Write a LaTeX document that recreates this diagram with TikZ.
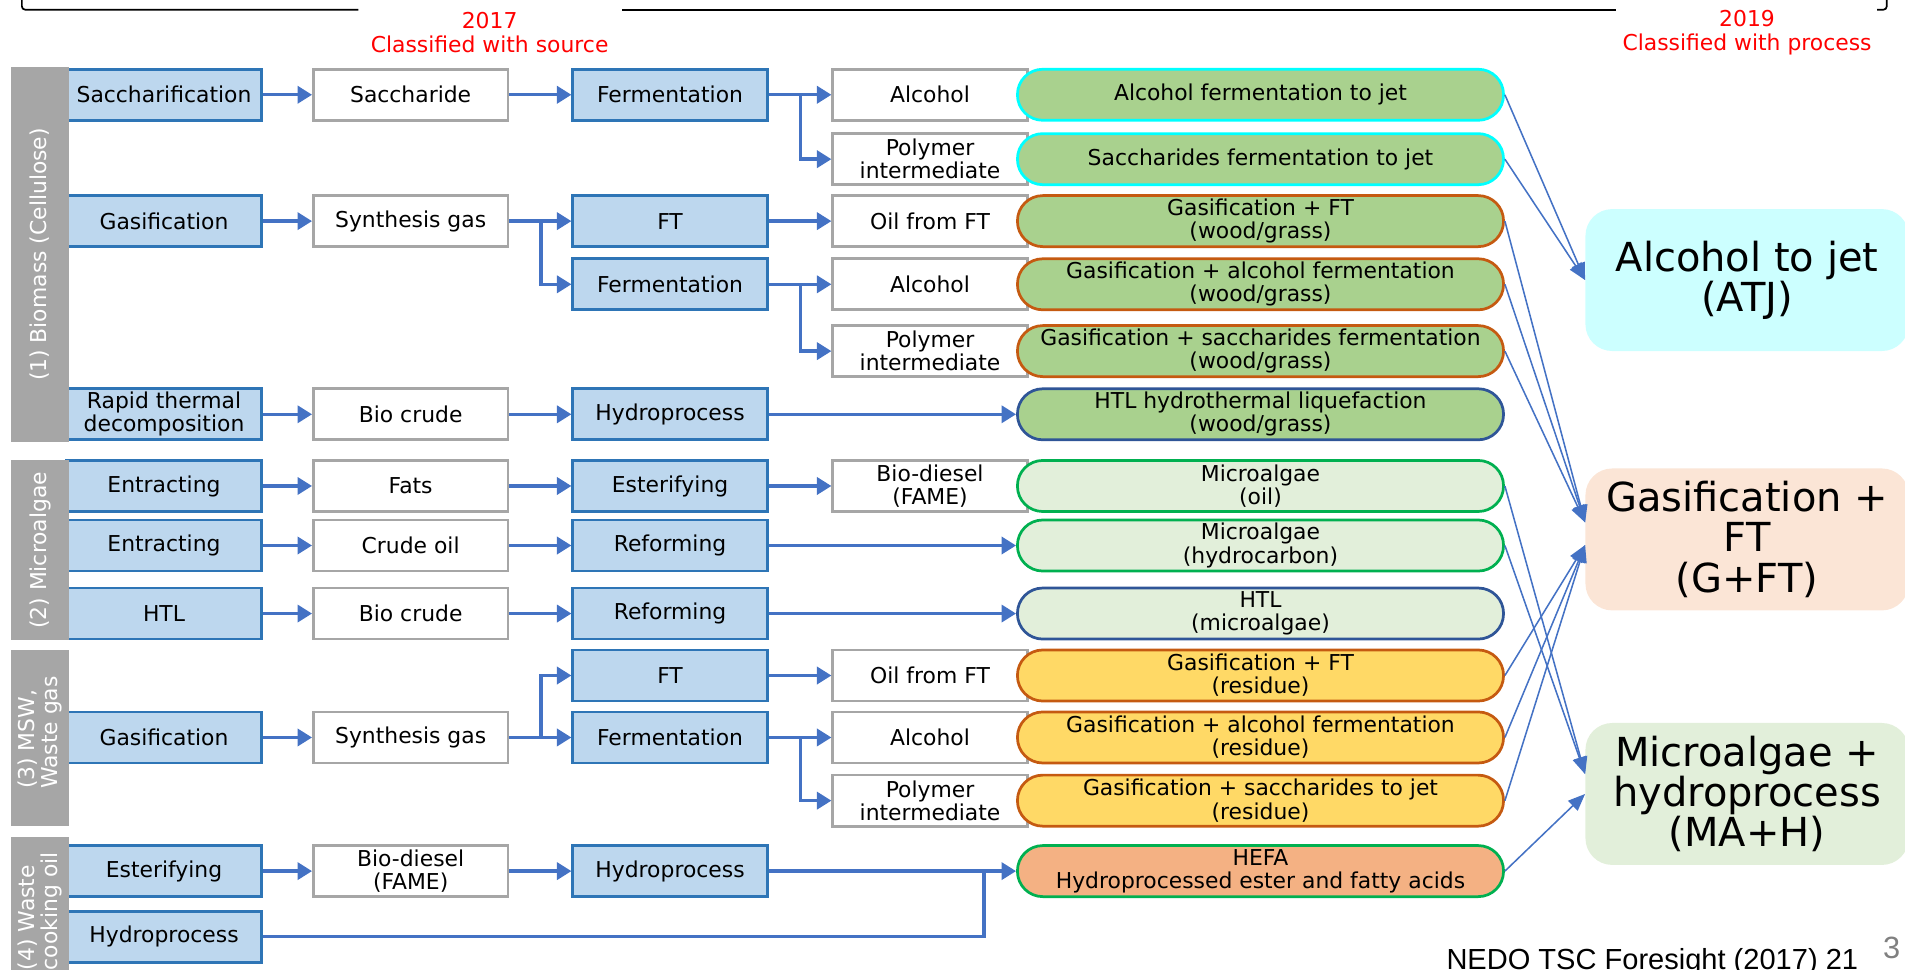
\documentclass[tikz,border=0pt]{standalone}
\usepackage{fontspec}
\setmainfont{DejaVu Sans}
\newfontfamily\citefont{Liberation Sans}
\usetikzlibrary{arrows.meta}

\definecolor{procfill}{HTML}{BDD7EE}
\definecolor{procline}{HTML}{2E75B6}
\definecolor{prodline}{HTML}{A6A6A6}
\definecolor{flow}{HTML}{4472C4}
\definecolor{leaf}{HTML}{A9D18E}
\definecolor{paleleaf}{HTML}{E2EFDA}
\definecolor{corn}{HTML}{FFD966}
\definecolor{salmon}{HTML}{F4B183}
\definecolor{cyanline}{HTML}{00FFFF}
\definecolor{rustline}{HTML}{C55A11}
\definecolor{navyline}{HTML}{2F5597}
\definecolor{greenline}{HTML}{00B050}
\definecolor{atjfill}{HTML}{CCFFFF}
\definecolor{gftfill}{HTML}{FBE5D6}
\definecolor{mahfill}{HTML}{E2EFDA}

\newcommand\boxfont{\fontsize{12.8}{13.6}\selectfont}
\newcommand\catfont{\fontsize{23.4}{23.6}\selectfont}

\tikzset{
  cell/.style={minimum height=1.05cm, minimum width=4cm, inner sep=0pt, align=center, font=\boxfont, line width=1.6pt},
  proc/.style={cell, draw=procline, fill=procfill},
  prod/.style={cell, draw=prodline, fill=white},
  route/.style={cell, minimum width=10cm, rounded corners=0.52cm},
  cat/.style={minimum width=6.65cm, minimum height=2.92cm, inner sep=0pt, align=center, font=\catfont, rounded corners=0.55cm},
  conn/.style={draw=flow, line width=2pt, -{Triangle[length=8.5pt, width=10pt]}},
  pipe/.style={draw=flow, line width=2pt},
  link/.style={draw=flow, line width=0.9pt, -{Triangle[length=10pt, width=8pt]}},
  sidebar/.style={fill=prodline},
  sidelabel/.style={rotate=90, text=white, align=left, inner sep=0pt, font=\fontsize{12.8}{13.4}\selectfont},
  header/.style={text=red, align=center, inner sep=0pt, font=\fontsize{12.8}{14.2}\selectfont},
  bracket/.style={line width=1pt, rounded corners=2pt}
}

\begin{document}
\begin{tikzpicture}[x=0.025cm, y=-0.025cm]
\useasboundingbox (0,0) rectangle (1568,798);

% headings
\draw[bracket] (18,0) -- (18,8) -- (295,8);
\draw[bracket] (512,8) -- (1330,8);
\draw[bracket] (1545,8) -- (1553,8) -- (1553,0);
\node[header] (year1) at (403,27) {2017\\Classified with source};
\node[header] (year2) at (1438,27) {2019\\Classified with process};

% first step
\node[proc] (sac) at (135,78) {Saccharification};
\node[proc] (gas1) at (135,182) {Gasification};
\node[proc] (rtd) at (135,341) {Rapid thermal\\decomposition};
\node[proc] (ext1) at (135,400) {Entracting};
\node[proc] (ext2) at (135,449) {Entracting};
\node[proc] (htl) at (135,505) {HTL};
\node[proc] (gas2) at (135,607) {Gasification};
\node[proc] (est1) at (135,717) {Esterifying};
\node[proc] (hyd0) at (135,771) {Hydroprocess};

% first product
\node[prod] (sacd) at (338,78) {Saccharide};
\node[prod] (syn1) at (338,182) {Synthesis gas};
\node[prod] (bio1) at (338,341) {Bio crude};
\node[prod] (fats) at (338,400) {Fats};
\node[prod] (crude) at (338,449) {Crude oil};
\node[prod] (bio2) at (338,505) {Bio crude};
\node[prod] (syn2) at (338,607) {Synthesis gas};
\node[prod] (fame1) at (338,717) {Bio-diesel\\(FAME)};

% second step
\node[proc] (fer1) at (551.5,78) {Fermentation};
\node[proc] (ft1) at (551.5,182) {FT};
\node[proc] (fer2) at (551.5,234) {Fermentation};
\node[proc] (hyd1) at (551.5,341) {Hydroprocess};
\node[proc] (est2) at (551.5,400) {Esterifying};
\node[proc] (ref1) at (551.5,449) {Reforming};
\node[proc] (ref2) at (551.5,505) {Reforming};
\node[proc] (ft2) at (551.5,556) {FT};
\node[proc] (fer3) at (551.5,607) {Fermentation};
\node[proc] (hyd2) at (551.5,717) {Hydroprocess};

% second product
\node[prod] (alc1) at (765.5,78) {Alcohol};
\node[prod] (poly1) at (765.5,131) {Polymer\\intermediate};
\node[prod] (oil1) at (765.5,182) {Oil from FT};
\node[prod] (alc2) at (765.5,234) {Alcohol};
\node[prod] (poly2) at (765.5,289) {Polymer\\intermediate};
\node[prod] (fame2) at (765.5,400) {Bio-diesel\\(FAME)};
\node[prod] (oil2) at (765.5,556) {Oil from FT};
\node[prod] (alc3) at (765.5,607) {Alcohol};
\node[prod] (poly3) at (765.5,659) {Polymer\\intermediate};

% routes
\node[route, fill=leaf, draw=cyanline] (jet1) at (1037.5,78) {Alcohol fermentation to jet};
\node[route, fill=leaf, draw=cyanline] (jet2) at (1037.5,131) {Saccharides fermentation to jet};
\node[route, fill=leaf, draw=rustline] (gw1) at (1037.5,182) {Gasification + FT\\(wood/grass)};
\node[route, fill=leaf, draw=rustline] (gw2) at (1037.5,234) {Gasification + alcohol fermentation\\(wood/grass)};
\node[route, fill=leaf, draw=rustline] (gw3) at (1037.5,289) {Gasification + saccharides fermentation\\(wood/grass)};
\node[route, fill=leaf, draw=navyline] (htlw) at (1037.5,341) {HTL hydrothermal liquefaction\\(wood/grass)};
\node[route, fill=paleleaf, draw=greenline] (alg1) at (1037.5,400) {Microalgae\\(oil)};
\node[route, fill=paleleaf, draw=greenline] (alg2) at (1037.5,449) {Microalgae\\(hydrocarbon)};
\node[route, fill=paleleaf, draw=navyline] (htlm) at (1037.5,505) {HTL\\(microalgae)};
\node[route, fill=corn, draw=rustline] (gr1) at (1037.5,556) {Gasification + FT\\(residue)};
\node[route, fill=corn, draw=rustline] (gr2) at (1037.5,607) {Gasification + alcohol fermentation\\(residue)};
\node[route, fill=corn, draw=rustline] (gr3) at (1037.5,659) {Gasification + saccharides to jet\\(residue)};
\node[route, fill=salmon, draw=greenline] (hefa) at (1037.5,717) {HEFA\\Hydroprocessed ester and fatty acids};

% 2019 classes
\node[cat, fill=atjfill] (atj) at (1438,230.5) {Alcohol to jet\\(ATJ)};
\node[cat, fill=gftfill] (gft) at (1438,444) {Gasification +\\FT\\(G+FT)};
\node[cat, fill=mahfill] (mah) at (1438,653.5) {Microalgae +\\hydroprocess\\(MA+H)};

% sources
\fill[sidebar] (9,55) rectangle (57,364);
\node[sidelabel] (src1) at (33,209.5) {(1) Biomass (Cellulose)};
\fill[sidebar] (9,379) rectangle (57,527);
\node[sidelabel] (src2) at (33,453) {(2) Microalgae};
\fill[sidebar] (9,535) rectangle (57,680);
\node[sidelabel] (src3) at (33,603) {(3) MSW,\\Waste gas};
\fill[sidebar] (9,689) rectangle (57,812);
\node[sidelabel] (src4) at (33,750) {(4) Waste\\cooking oil};

% flows
\draw[conn] (sac.east) -- (sacd.west);
\draw[conn] (sacd.east) -- (fer1.west);
\draw[conn] (fer1.east) -- (alc1.west);
\draw[conn] (fer1.east) -- ++(26,0) |- (poly1.west);
\draw[conn] (gas1.east) -- (syn1.west);
\draw[conn] (syn1.east) -- (ft1.west);
\draw[conn] (syn1.east) -- ++(26,0) |- (fer2.west);
\draw[conn] (ft1.east) -- (oil1.west);
\draw[conn] (fer2.east) -- (alc2.west);
\draw[conn] (fer2.east) -- ++(26,0) |- (poly2.west);
\draw[conn] (rtd.east) -- (bio1.west);
\draw[conn] (bio1.east) -- (hyd1.west);
\draw[conn] (hyd1.east) -- (htlw.west);
\draw[conn] (ext1.east) -- (fats.west);
\draw[conn] (fats.east) -- (est2.west);
\draw[conn] (est2.east) -- (fame2.west);
\draw[conn] (ext2.east) -- (crude.west);
\draw[conn] (crude.east) -- (ref1.west);
\draw[conn] (ref1.east) -- (alg2.west);
\draw[conn] (htl.east) -- (bio2.west);
\draw[conn] (bio2.east) -- (ref2.west);
\draw[conn] (ref2.east) -- (htlm.west);
\draw[conn] (gas2.east) -- (syn2.west);
\draw[conn] (syn2.east) -- (fer3.west);
\draw[conn] (syn2.east) -- ++(26,0) |- (ft2.west);
\draw[conn] (ft2.east) -- (oil2.west);
\draw[conn] (fer3.east) -- (alc3.west);
\draw[conn] (fer3.east) -- ++(26,0) |- (poly3.west);
\draw[conn] (est1.east) -- (fame1.west);
\draw[conn] (fame1.east) -- (hyd2.west);
\draw[conn] (hyd2.east) -- (hefa.west);
\coordinate (merge) at (810,717);
\draw[pipe] (hyd0.east) -| (merge);

% regrouping
\foreach \r in {jet1,jet2} \draw[link] (\r.east) -- (atj.west);
\foreach \r in {gw1,gw2,gw3} \draw[link] (\r.east) -- (gft.174);
\foreach \r in {gr1,gr2,gr3} \draw[link] (\r.east) -- (gft.182);
\foreach \r in {alg1,alg2} \draw[link] (\r.east) -- (mah.173);
\draw[link] (hefa.east) -- (mah.west);

% footer
\node[anchor=base, inner sep=0pt, font=\citefont\fontsize{17}{18}\selectfont] (cite) at (1360,798) {NEDO TSC Foresight (2017) 21};
\node[anchor=base, inner sep=0pt, text=gray, font=\citefont\fontsize{18}{19}\selectfont] (pageno) at (1557,789) {3};
\end{tikzpicture}
\end{document}
